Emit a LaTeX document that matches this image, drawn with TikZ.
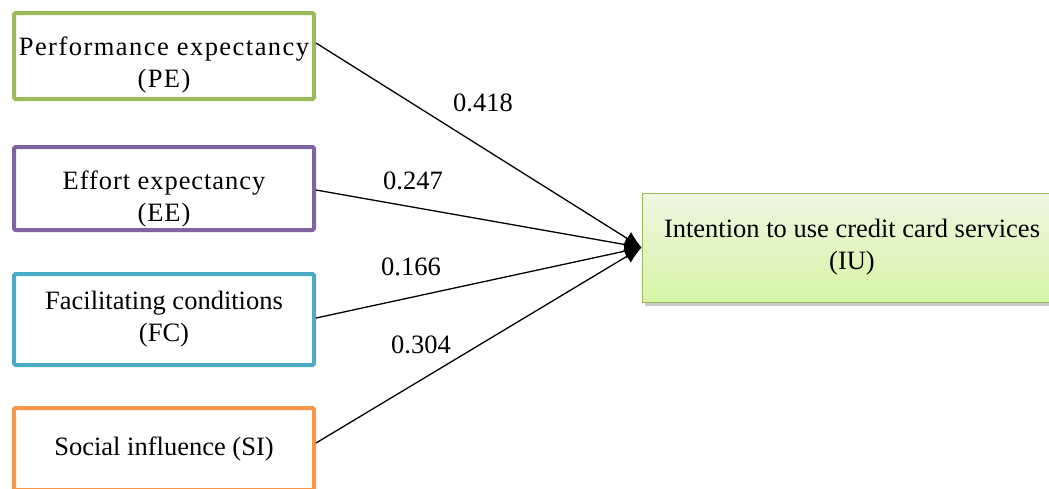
\documentclass[tikz,border=0pt]{standalone}
\usepackage{fontspec}
\setmainfont{Liberation Serif}
\usetikzlibrary{shadows,arrows.meta}
\definecolor{peg}{HTML}{9BBB59}
\definecolor{eep}{HTML}{8064A2}
\definecolor{fct}{HTML}{4BACC6}
\definecolor{sio}{HTML}{F79646}
\definecolor{iutop}{HTML}{EEF6E2}
\definecolor{iubot}{HTML}{D6F5A6}
\newcommand{\pushdn}[1]{\rule{0pt}{#1}}
\tikzset{
  factor/.style={draw=#1,line width=4pt,rounded corners=1.5pt,fill=white,
    minimum width=300pt,minimum height=86pt,align=center,inner sep=2pt},
  spaced/.style={font=\fontsize{26.5}{32}\selectfont\addfontfeature{LetterSpace=#1}},
  coef/.style={inner sep=0pt}
}
\begin{document}
\begin{tikzpicture}[x=1pt,y=-1pt,font=\fontsize{26.5}{32}\selectfont,>={Latex[length=17pt,width=15pt]}]
            \useasboundingbox (0,0) rectangle (1049,488);
            \begin{scope}
            \clip (0,0) rectangle (1049,488);
            \node[factor=peg,minimum height=86pt,spaced=5.5] (pe) at (164,56) {\pushdn{36pt}Performance expectancy\\(PE)};
            \node[factor=eep,minimum height=83pt,spaced=3.5] (ee) at (164,188.5) {\pushdn{39pt}Effort expectancy\\(EE)};
            \node[factor=fct,minimum height=91pt] (fc) at (164,319.5) {Facilitating conditions\\(FC)};
            \node[factor=sio,minimum height=82pt] (si) at (164,449) {Social influence (SI)};
            \node[draw=peg,line width=0.8pt,top color=iutop,bottom color=iubot,
                  drop shadow={opacity=0.4,shadow xshift=3pt,shadow yshift=-4pt},
                  minimum width=420pt,minimum height=109pt,align=center] (iu) at (852,247.5)
                  {Intention to use credit card services\\(IU)};
            \end{scope}
            \draw[->,line width=1.3pt] ([yshift=13pt]pe.east) -- (iu.west);
            \draw[->,line width=1.3pt] ([yshift=-1.5pt]ee.east) -- (iu.west);
            \draw[->,line width=1.3pt] ([yshift=1.5pt]fc.east) -- (iu.west);
            \draw[->,line width=1.3pt] ([yshift=6pt]si.east) -- (iu.west);
            \node[coef] (c1) at (483,103) {0.418};
            \node[coef] (c2) at (413,181) {0.247};
            \node[coef] (c3) at (411,267) {0.166};
            \node[coef] (c4) at (421,345) {0.304};
\end{tikzpicture}
\end{document}
